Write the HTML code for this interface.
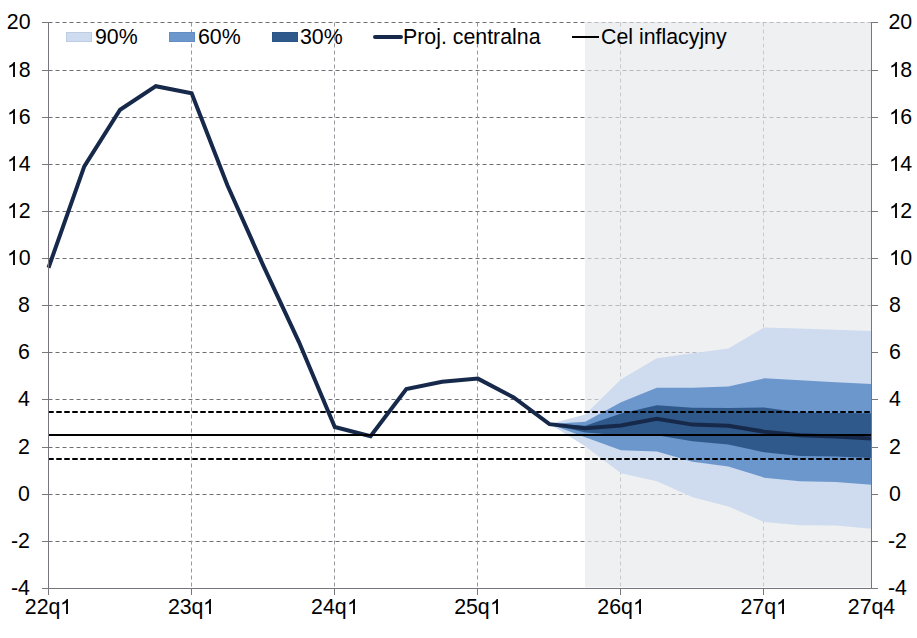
<!DOCTYPE html>
<html><head><meta charset="utf-8"><style>
html,body{margin:0;padding:0;background:#fff;width:917px;height:638px;overflow:hidden}
body{position:relative;font-family:"Liberation Sans",sans-serif;color:#000}
.yl,.yr,.xl,.lt{position:absolute;font-size:16pt;line-height:24px;white-space:nowrap}
.yl{left:0;width:31px;text-align:right}
.yr{left:888px;width:40px;text-align:left}
.xl{top:595px;width:80px;text-align:center}
.lt{top:25px}
.sw{position:absolute;top:32px;width:26px;height:10px;box-sizing:border-box;border:1px solid rgba(0,25,90,0.08)}
.ln{position:absolute}
.one{width:0.5562em;height:0.71875em;vertical-align:baseline;fill:#000}
</style></head><body>
<svg width="917" height="638" viewBox="0 0 917 638" style="position:absolute;left:0;top:0">
<path d="M48 22.5H871M48 70.5H871M48 117.5H871M48 164.5H871M48 211.5H871M48 258.5H871M48 305.5H871M48 352.5H871M48 399.5H871M48 447.5H871M48 494.5H871M48 541.5H871" stroke="#6e6e74" stroke-width="1" stroke-dasharray="4,3" stroke-dashoffset="-0.5" fill="none"/>
<path d="M191.5 22V588M334.5 22V588M477.5 22V588M620.5 22V588M763.5 22V588" stroke="#98989e" stroke-width="1" stroke-dasharray="4,3" stroke-dashoffset="-0.5" fill="none"/>
<rect x="585" y="22" width="286" height="565" fill="rgba(229,231,234,0.63)"/>
<rect x="585" y="587" width="286" height="1" fill="#f8f8fa"/>
<polygon points="549.46,424.12 585.24,414.45 621.02,379.32 656.8,358.33 692.59,353.14 728.37,348.42 764.15,327.43 799.93,328.61 835.72,329.79 871.5,330.97 871.5,528.83 835.72,525.53 799.93,525.3 764.15,521.99 728.37,506.43 692.59,497.23 656.8,481.2 621.02,473.18 585.24,446.29 549.46,424.12" fill="#cfdcef"/>
<polygon points="549.46,424.12 585.24,421.77 621.02,402.19 656.8,387.81 692.59,387.81 728.37,386.39 764.15,378.37 799.93,380.26 835.72,382.15 871.5,384.03 871.5,484.73 835.72,481.9 799.93,481.2 764.15,477.66 728.37,466.57 692.59,461.86 656.8,451.48 621.02,450.3 585.24,437.33 549.46,424.12" fill="#6c97cc"/>
<polygon points="549.46,424.12 585.24,425.78 621.02,413.51 656.8,405.26 692.59,407.85 728.37,408.09 764.15,407.38 799.93,412.57 835.72,413.04 871.5,413.28 871.5,458.08 835.72,456.43 799.93,455.96 764.15,452.19 728.37,444.41 692.59,441.34 656.8,435.21 621.02,435.21 585.24,432.38 549.46,424.12" fill="#2f598b"/>
<path d="M48 412H871M48 459H871" stroke="#000" stroke-width="2" stroke-dasharray="4,4" stroke-dashoffset="-1" stroke-linecap="round" fill="none"/>
<polyline points="48.5,267.77 84.28,166.36 120.07,109.76 155.85,86.17 191.63,93.25 227.41,185.22 263.2,265.41 298.98,342.05 334.76,426.95 370.54,436.15 406.33,388.98 442.11,381.67 477.89,378.61 513.67,397.47 549.46,424.12 585.24,428.13 621.02,425.54 656.8,418.7 692.59,424.6 728.37,425.78 764.15,431.67 799.93,435.21 835.72,436.39 871.5,438.51" fill="none" stroke="#17294a" stroke-width="4" stroke-linejoin="miter"/>
<path d="M48 435H871.5" stroke="#000" stroke-width="2" fill="none"/>
<path d="M48.5 22V595M871.5 22V588M42 588.5H878M42 22.5H48M872 22.5H878M42 70.5H48M872 70.5H878M42 117.5H48M872 117.5H878M42 164.5H48M872 164.5H878M42 211.5H48M872 211.5H878M42 258.5H48M872 258.5H878M42 305.5H48M872 305.5H878M42 352.5H48M872 352.5H878M42 399.5H48M872 399.5H878M42 447.5H48M872 447.5H878M42 494.5H48M872 494.5H878M42 541.5H48M872 541.5H878M42 588.5H48M872 588.5H878M191.5 589V595M334.5 589V595M477.5 589V595M620.5 589V595M763.5 589V595" stroke="#76767c" stroke-width="1" fill="none"/>
</svg>
<div class="yl" style="top:10px;left:-0.5px">20</div>
<div class="yr" style="top:10px;left:888.5px">20</div>
<div class="yl" style="top:58px;left:-0.5px"><svg class="one" viewBox="0 0 1139 1472"><path transform="matrix(1 0 0 -1 0 1472)" d="M763 0H583V1147Q518 1085 412.5 1023T223 930V1104Q375 1175 489 1276T650 1472H763V0Z"/></svg>8</div>
<div class="yr" style="top:58px;left:888.5px"><svg class="one" viewBox="0 0 1139 1472"><path transform="matrix(1 0 0 -1 0 1472)" d="M763 0H583V1147Q518 1085 412.5 1023T223 930V1104Q375 1175 489 1276T650 1472H763V0Z"/></svg>8</div>
<div class="yl" style="top:105px;left:-0.5px"><svg class="one" viewBox="0 0 1139 1472"><path transform="matrix(1 0 0 -1 0 1472)" d="M763 0H583V1147Q518 1085 412.5 1023T223 930V1104Q375 1175 489 1276T650 1472H763V0Z"/></svg>6</div>
<div class="yr" style="top:105px;left:888.5px"><svg class="one" viewBox="0 0 1139 1472"><path transform="matrix(1 0 0 -1 0 1472)" d="M763 0H583V1147Q518 1085 412.5 1023T223 930V1104Q375 1175 489 1276T650 1472H763V0Z"/></svg>6</div>
<div class="yl" style="top:152px;left:-0.5px"><svg class="one" viewBox="0 0 1139 1472"><path transform="matrix(1 0 0 -1 0 1472)" d="M763 0H583V1147Q518 1085 412.5 1023T223 930V1104Q375 1175 489 1276T650 1472H763V0Z"/></svg>4</div>
<div class="yr" style="top:152px;left:888.5px"><svg class="one" viewBox="0 0 1139 1472"><path transform="matrix(1 0 0 -1 0 1472)" d="M763 0H583V1147Q518 1085 412.5 1023T223 930V1104Q375 1175 489 1276T650 1472H763V0Z"/></svg>4</div>
<div class="yl" style="top:199px;left:-0.5px"><svg class="one" viewBox="0 0 1139 1472"><path transform="matrix(1 0 0 -1 0 1472)" d="M763 0H583V1147Q518 1085 412.5 1023T223 930V1104Q375 1175 489 1276T650 1472H763V0Z"/></svg>2</div>
<div class="yr" style="top:199px;left:888.5px"><svg class="one" viewBox="0 0 1139 1472"><path transform="matrix(1 0 0 -1 0 1472)" d="M763 0H583V1147Q518 1085 412.5 1023T223 930V1104Q375 1175 489 1276T650 1472H763V0Z"/></svg>2</div>
<div class="yl" style="top:246px;left:-0.5px"><svg class="one" viewBox="0 0 1139 1472"><path transform="matrix(1 0 0 -1 0 1472)" d="M763 0H583V1147Q518 1085 412.5 1023T223 930V1104Q375 1175 489 1276T650 1472H763V0Z"/></svg>0</div>
<div class="yr" style="top:246px;left:888.5px"><svg class="one" viewBox="0 0 1139 1472"><path transform="matrix(1 0 0 -1 0 1472)" d="M763 0H583V1147Q518 1085 412.5 1023T223 930V1104Q375 1175 489 1276T650 1472H763V0Z"/></svg>0</div>
<div class="yl" style="top:293px;left:-1.1px">8</div>
<div class="yr" style="top:293px;left:889px">8</div>
<div class="yl" style="top:340px;left:-1.1px">6</div>
<div class="yr" style="top:340px;left:889px">6</div>
<div class="yl" style="top:387px;left:-1.1px">4</div>
<div class="yr" style="top:387px;left:889px">4</div>
<div class="yl" style="top:435px;left:-1.1px">2</div>
<div class="yr" style="top:435px;left:889px">2</div>
<div class="yl" style="top:482px;left:-1.1px">0</div>
<div class="yr" style="top:482px;left:889px">0</div>
<div class="yl" style="top:529px;left:-1.1px">-2</div>
<div class="yr" style="top:529px;left:888px">-2</div>
<div class="yl" style="top:576px;left:-1.1px">-4</div>
<div class="yr" style="top:576px;left:888px">-4</div>
<div class="xl" style="left:8.5px">22q<svg class="one" viewBox="0 0 1139 1472"><path transform="matrix(1 0 0 -1 0 1472)" d="M763 0H583V1147Q518 1085 412.5 1023T223 930V1104Q375 1175 489 1276T650 1472H763V0Z"/></svg></div>
<div class="xl" style="left:151.63px">23q<svg class="one" viewBox="0 0 1139 1472"><path transform="matrix(1 0 0 -1 0 1472)" d="M763 0H583V1147Q518 1085 412.5 1023T223 930V1104Q375 1175 489 1276T650 1472H763V0Z"/></svg></div>
<div class="xl" style="left:294.76px">24q<svg class="one" viewBox="0 0 1139 1472"><path transform="matrix(1 0 0 -1 0 1472)" d="M763 0H583V1147Q518 1085 412.5 1023T223 930V1104Q375 1175 489 1276T650 1472H763V0Z"/></svg></div>
<div class="xl" style="left:437.89px">25q<svg class="one" viewBox="0 0 1139 1472"><path transform="matrix(1 0 0 -1 0 1472)" d="M763 0H583V1147Q518 1085 412.5 1023T223 930V1104Q375 1175 489 1276T650 1472H763V0Z"/></svg></div>
<div class="xl" style="left:581.02px">26q<svg class="one" viewBox="0 0 1139 1472"><path transform="matrix(1 0 0 -1 0 1472)" d="M763 0H583V1147Q518 1085 412.5 1023T223 930V1104Q375 1175 489 1276T650 1472H763V0Z"/></svg></div>
<div class="xl" style="left:724.15px">27q<svg class="one" viewBox="0 0 1139 1472"><path transform="matrix(1 0 0 -1 0 1472)" d="M763 0H583V1147Q518 1085 412.5 1023T223 930V1104Q375 1175 489 1276T650 1472H763V0Z"/></svg></div>
<div class="xl" style="left:831.5px">27q4</div>

<div class="sw" style="left:66px;background:#cfdcef"></div><div class="lt" style="left:95px">90%</div>
<div class="sw" style="left:169px;background:#6c97cc"></div><div class="lt" style="left:198px">60%</div>
<div class="sw" style="left:272px;background:#2f598b"></div><div class="lt" style="left:300px">30%</div>
<div class="ln" style="left:373px;width:30px;height:4px;top:35px;background:#17294a;border-radius:2px"></div><div class="lt" style="left:403px">Proj. centralna</div>
<div class="ln" style="left:572px;width:27px;height:2px;top:35.5px;background:#000"></div><div class="lt" style="left:601px">Cel inflacyjny</div>

</body></html>
